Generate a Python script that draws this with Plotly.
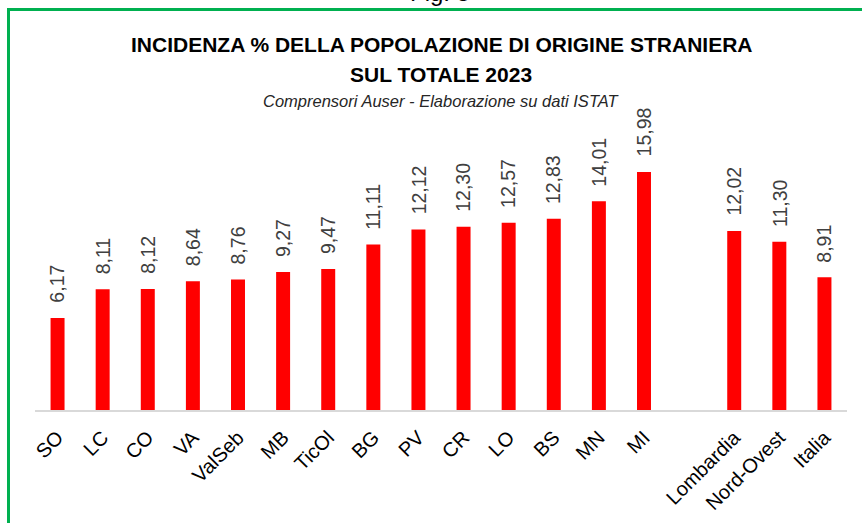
import plotly.graph_objects as go

categories = ["SO", "LC", "CO", "VA", "ValSeb", "MB", "TicOl", "BG", "PV", "CR",
              "LO", "BS", "MN", "MI", " ", "Lombardia", "Nord-Ovest", "Italia"]
values = [6.17, 8.11, 8.12, 8.64, 8.76, 9.27, 9.47, 11.11, 12.12, 12.30,
          12.57, 12.83, 14.01, 15.98, None, 12.02, 11.30, 8.91]

title_line1 = "INCIDENZA % DELLA POPOLAZIONE DI ORIGINE STRANIERA"
title_line2 = "SUL TOTALE 2023"
subtitle = "Comprensori Auser - Elaborazione su dati ISTAT"
fig_label = "Fig. 5"

W, H = 862, 523
L, R, T, B = 35, 15, 112, 113
pw = W - L - R
ph = H - T - B

def px_x(x):
    return (x - L) / pw

def px_y(y):
    return (H - B - y) / ph

sans = "Liberation Sans, Arial, sans-serif"

fig = go.Figure()
fig.add_trace(go.Bar(
    x=categories, y=values, width=0.31,
    marker=dict(color="#FF0000", line=dict(width=0)),
    hoverinfo="x+y",
))

annotations = []
for c, v in zip(categories, values):
    if v is None:
        continue
    annotations.append(dict(
        x=c, y=v, xref="x", yref="y",
        text=f"{v:.2f}".replace(".", ","),
        textangle=-90, showarrow=False,
        xanchor="center", yanchor="bottom", yshift=13,
        font=dict(family=sans, size=19.5, color="#404040"),
    ))

annotations += [
    dict(x=0.5, y=px_y(44), xref="paper", yref="paper", text="<b>" + title_line1 + "</b>",
         showarrow=False, xanchor="center", yanchor="middle",
         font=dict(family=sans, size=21, color="#000000")),
    dict(x=0.5, y=px_y(74), xref="paper", yref="paper", text="<b>" + title_line2 + "</b>",
         showarrow=False, xanchor="center", yanchor="middle",
         font=dict(family=sans, size=21, color="#000000")),
    dict(x=0.5, y=px_y(101), xref="paper", yref="paper", text="<i>" + subtitle + "</i>",
         showarrow=False, xanchor="center", yanchor="middle",
         font=dict(family=sans, size=16.5, color="#262626")),
    dict(x=px_x(440), y=px_y(8), xref="paper", yref="paper", text=fig_label,
         showarrow=False, xanchor="center", yanchor="bottom",
         font=dict(family=sans, size=24, color="#000000")),
]

shapes = [
    dict(type="line", xref="paper", yref="paper",
         x0=px_x(8.5), x1=px_x(8.5), y0=px_y(530), y1=px_y(9.5),
         line=dict(color="#00B050", width=3)),
    dict(type="line", xref="paper", yref="paper",
         x0=px_x(7), x1=px_x(880), y0=px_y(9.5), y1=px_y(9.5),
         line=dict(color="#00B050", width=3)),
]

fig.update_layout(
    width=W, height=H,
    margin=dict(l=L, r=R, t=T, b=B, autoexpand=False),
    paper_bgcolor="white", plot_bgcolor="white",
    showlegend=False,
    annotations=annotations,
    shapes=shapes,
    xaxis=dict(
        type="category", categoryorder="array", categoryarray=categories,
        automargin=False,
        showline=True, linecolor="#D9D9D9", linewidth=2,
        showgrid=False, zeroline=False,
        tickangle=-45, ticks="outside", ticklen=6, tickcolor="rgba(0,0,0,0)",
        tickfont=dict(family=sans, size=20, color="#000000"),
    ),
    yaxis=dict(range=[0, 20], visible=False, showgrid=False, zeroline=False,
               automargin=False),
)

fig.write_html(
    "out.html",
    config={"displayModeBar": False},
    post_script="document.body.style.margin='0';document.body.style.overflow='hidden';",
)
